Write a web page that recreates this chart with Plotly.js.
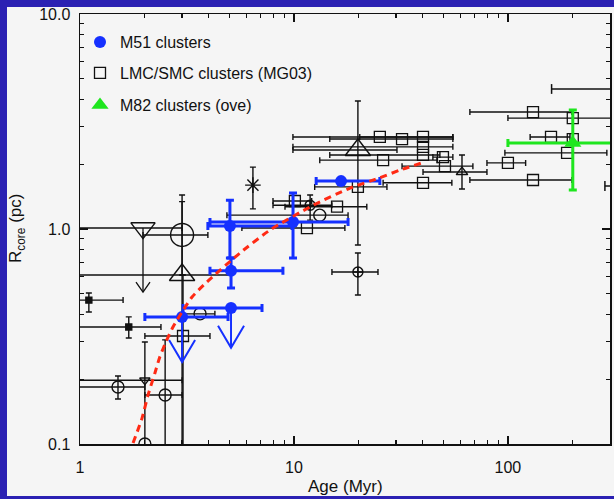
<!DOCTYPE html>
<html>
<head>
<meta charset="utf-8">
<script src="https://cdn.plot.ly/plotly-3.0.1.min.js"></script>
<style>
  html, body { margin: 0; padding: 0; width: 614px; height: 499px; overflow: hidden; background: #2b21b3; }
  #chart { position: absolute; left: 0; top: 0; width: 614px; height: 499px; }
</style>
</head>
<body>
<div id="chart"></div>
<script>
// ---------------- data ----------------
// M51 clusters (blue filled circles)
const m51Age   = [3.0, 5.08, 5.08, 5.02, 9.9, 16.6];
const m51R     = [0.39, 0.429, 0.64, 1.032, 1.078, 1.67];
const m51AgeLo = [2.01, 3.03, 4.05, 3.96, 4.05, 12.7];
const m51AgeHi = [4.92, 7.09, 8.88, 9.79, 17.9, 25.2];
const m51RLo   = [null, null, 0.532, 0.733, 0.733, null];
const m51RHi   = [null, null, 0.733, 1.36, 1.47, null];
// M51 upper limits (arrows)
const m51LimAge  = [3.0, 5.08];
const m51LimFrom = [0.39, 0.429];
const m51LimTo   = [0.2406, 0.280];

// LMC/SMC clusters (MG03, open squares)
const lmcAge   = [3.03, 10.1, 15.9, 11.5, 19.9, 25.2, 32.0, 40.1, 40.1, 40.1, 26.1, 49.7, 50.8, 40.1, 100, 131, 189, 159, 131, 201, 201];
const lmcR     = [0.318, 1.35, 1.27, 1.01, 1.57, 2.68, 2.62, 2.68, 2.41, 2.21, 2.09, 2.16, 1.96, 1.64, 2.03, 1.69, 2.26, 2.68, 3.50, 3.28, 2.62];
const lmcAgeLo = [2.01, 7.98, 9.08, 5.71, 12.5, 9.89, 14.7, 20.3, 9.89, 14.7, 13.2, 44.6, 32.0, 26.1, 79.8, 66.4, 96.8, 127, 66.4, 100, null];
const lmcAgeHi = [4.05, 12.1, 21.9, 17.3, 27.2, 55.3, 55.3, 55.3, 55.3, 48.1, 46.6, 55.3, 68.6, 54.7, 121, 199, 290, 195, 199, 400, null];
const lmcRLo   = [0.01, null, null, null, null, null, null, null, null, null, null, null, null, null, null, null, null, null, null, null, null];
const lmcRHi   = [0.611, null, null, null, null, null, null, null, null, null, null, null, null, null, null, null, null, null, null, null, null];
// LMC/SMC clusters older than the plotted range (only their age bars show)
const lmcEdgeR     = [4.48, 1.585];
const lmcEdgeAgeLo = [160, 284];
const lmcEdgeAgeHi = [400, 500];

// M82 clusters (green triangle)
const m82Age   = [201];
const m82R     = [2.51];
const m82AgeLo = [100];
const m82AgeHi = [400];
const m82RLo   = [1.52];
const m82RHi   = [3.58];

// other clusters (black symbols)
const smallCircAge   = [1.505, 2.50, 2.01, 3.64, 13.2];
const smallCircR     = [0.184, 0.169, 0.1, 0.403, 1.16];
const smallCircAgeLo = [0.8, 2.01, null, 3.03, 4.86];
const smallCircAgeHi = [2.01, 3.0, null, 4.27, 17.9];
const smallCircRLo   = [0.162, 0.01, null, null, null];
const smallCircRHi   = [0.207, 0.305, null, null, null];

const bigCircAge   = [3.0];
const bigCircR     = [0.938];
const bigCircAgeLo = [1.97];
const bigCircAgeHi = [3.96];
const bigCircRLo   = [0.611];
const bigCircRHi   = [1.44];

const crossCircAge   = [11.9, 19.9];
const crossCircR     = [1.29, 0.631];
const crossCircAgeLo = [7.98, 15.05];
const crossCircAgeHi = [15.05, 24.7];
const crossCircRLo   = [1.10, 0.493];
const crossCircRHi   = [1.44, 0.773];

const bigTriUpAge   = [3.0, 19.9];
const bigTriUpR     = [0.611, 2.33];
const bigTriUpAgeLo = [0.8, 9.89];
const bigTriUpAgeHi = [5.08, 30.3];
const bigTriUpRLo   = [0.01, 0.843];
const bigTriUpRHi   = [1.34, 3.94];

const smallTriUpAge   = [61.0];
const smallTriUpR     = [1.84];
const smallTriUpAgeLo = [40.1];
const smallTriUpAgeHi = [79.8];
const smallTriUpRLo   = [1.535];
const smallTriUpRHi   = [2.21];

const bigTriDownAge   = [1.97];
const bigTriDownR     = [1.01];
const bigTriDownAgeLo = [0.8];
const bigTriDownAgeHi = [3.0];
const bigTriDownLimTo = [0.509];

const smallTriDownAge   = [2.01];
const smallTriDownR     = [0.198];
const smallTriDownAgeLo = [0.8];
const smallTriDownAgeHi = [3.0];
const smallTriDownRLo   = [0.01];
const smallTriDownRHi   = [0.298];

const filledSqAge   = [1.10, 1.69];
const filledSqR     = [0.467, 0.350];
const filledSqAgeLo = [0.8, 0.8];
const filledSqAgeHi = [1.59, 2.39];
const filledSqRLo   = [0.411, 0.311];
const filledSqRHi   = [0.504, 0.39];

const starAge = [6.43];
const starR   = [1.60];
const starRLo = [1.24];
const starRHi = [1.94];

// model curve (red dashed)
const modelAge = [1.77, 1.95, 2.08, 2.24, 2.36, 2.52, 2.72, 3.0, 3.34, 3.92, 5.59, 7.73, 12.3, 18.3, 25.2, 31.3, 39.6];
const modelR   = [0.101, 0.132, 0.169, 0.214, 0.254, 0.298, 0.350, 0.411, 0.483, 0.567, 0.773, 0.989, 1.29, 1.55, 1.73, 1.88, 2.03];

// axis ticks
const xTickVals = [1, 10, 100];
const xTickText = ['1', '10', '100'];
const xMinorVals = [2,3,4,5,6,7,8,9,20,30,40,50,60,70,80,90,200];
const yTickVals = [0.1, 1, 10];
const yTickText = ['0.1', '1.0', '10.0'];
const yMinorVals = [0.2,0.3,0.4,0.5,0.6,0.7,0.8,0.9,2,3,4,5,6,7,8,9];

// ---------------- helpers ----------------
const BLACK = '#111111';
const BLUE = '#1530ff';
const GREEN = '#1ee61e';
const RED = '#ff2a14';
const FONT = 'Liberation Sans, Arial, sans-serif';

const X_RANGE = [0, Math.log10(300)];
const Y_RANGE = [-1, 1];
const M = { l: 80, r: 4, t: 14, b: 55 };
const PLOT_W = 614 - M.l - M.r, PLOT_H = 499 - M.t - M.b;
const X_DEC = PLOT_W / (X_RANGE[1] - X_RANGE[0]);
const Y_DEC = PLOT_H / (Y_RANGE[1] - Y_RANGE[0]);

// page pixel -> paper coordinate
const px2paperX = (px) => (px - M.l) / PLOT_W;
const px2paperY = (py) => 1 - (py - M.t) / PLOT_H;

function errPlus(v, hi) { return v.map((x, i) => (hi[i] == null ? NaN : hi[i] - x)); }
function errMinus(v, lo) { return v.map((x, i) => (lo[i] == null ? NaN : x - lo[i])); }

function errBar(v, lo, hi, color, thick, w) {
  return { type: 'data', symmetric: false, array: errPlus(v, hi), arrayminus: errMinus(v, lo),
           color: color, thickness: thick, width: w };
}

function blackTrace(xs, ys, xlo, xhi, ylo, yhi, symbol, size) {
  const t = {
    x: xs, y: ys, type: 'scatter', mode: 'markers', showlegend: false, hoverinfo: 'skip',
    marker: { symbol: symbol, size: size, color: BLACK, line: { color: BLACK, width: 1.4 } },
    cliponaxis: true
  };
  if (xlo) t.error_x = errBar(xs, xlo, xhi, BLACK, 1.4, 3);
  if (ylo) t.error_y = errBar(ys, ylo, yhi, BLACK, 1.4, 3);
  return t;
}

// upper-limit arrows: vertical shaft + open V head (head size in px)
function arrowTrace(xs, from, to, halfW, headH, color, width) {
  const X = [], Y = [];
  const fx = Math.pow(10, halfW / X_DEC), fy = Math.pow(10, headH / Y_DEC);
  for (let i = 0; i < xs.length; i++) {
    X.push(xs[i], xs[i], null); Y.push(from[i], to[i], null);
    X.push(xs[i] / fx, xs[i], xs[i] * fx, null); Y.push(to[i] * fy, to[i], to[i] * fy, null);
  }
  return { x: X, y: Y, type: 'scatter', mode: 'lines', line: { color: color, width: width },
           showlegend: false, hoverinfo: 'skip' };
}

// age bars of clusters whose symbol lies beyond the right edge
function edgeBarLines(lo, hi, r) {
  const X = [], Y = [];
  for (let i = 0; i < r.length; i++) { X.push(lo[i], hi[i], null); Y.push(r[i], r[i], null); }
  return { x: X, y: Y, type: 'scatter', mode: 'lines', line: { color: BLACK, width: 1.5 },
           showlegend: false, hoverinfo: 'skip' };
}
function edgeBarCaps(lo, r) {
  return { x: lo, y: r, type: 'scatter', mode: 'markers', showlegend: false, hoverinfo: 'skip',
           marker: { symbol: 'line-ns-open', size: 7, color: BLACK, line: { color: BLACK, width: 1.5 } } };
}

// ---------------- traces ----------------
const traces = [
  blackTrace(filledSqAge, filledSqR, filledSqAgeLo, filledSqAgeHi, filledSqRLo, filledSqRHi, 'square', 6),
  blackTrace(smallCircAge, smallCircR, smallCircAgeLo, smallCircAgeHi, smallCircRLo, smallCircRHi, 'circle-open', 12),
  blackTrace(bigCircAge, bigCircR, bigCircAgeLo, bigCircAgeHi, bigCircRLo, bigCircRHi, 'circle-open', 23),
  blackTrace(crossCircAge, crossCircR, crossCircAgeLo, crossCircAgeHi, crossCircRLo, crossCircRHi, 'circle-cross-open', 10),
  blackTrace(bigTriUpAge, bigTriUpR, bigTriUpAgeLo, bigTriUpAgeHi, bigTriUpRLo, bigTriUpRHi, 'triangle-up-open', 22),
  blackTrace(smallTriUpAge, smallTriUpR, smallTriUpAgeLo, smallTriUpAgeHi, smallTriUpRLo, smallTriUpRHi, 'triangle-up-open', 10),
  blackTrace(bigTriDownAge, bigTriDownR, bigTriDownAgeLo, bigTriDownAgeHi, null, null, 'triangle-down-open', 21),
  blackTrace(smallTriDownAge, smallTriDownR, smallTriDownAgeLo, smallTriDownAgeHi, smallTriDownRLo, smallTriDownRHi, 'triangle-down-open', 9),
  blackTrace(starAge, starR, null, null, starRLo, starRHi, 'asterisk-open', 13),
  arrowTrace(bigTriDownAge, bigTriDownR, bigTriDownLimTo, 7, 10, BLACK, 1.3),
  // LMC/SMC squares
  {
    x: lmcAge, y: lmcR, type: 'scatter', mode: 'markers', name: 'LMC/SMC clusters (MG03)',
    legend: 'legend2', hoverinfo: 'skip',
    marker: { symbol: 'square-open', size: 11, color: BLACK, line: { color: BLACK, width: 1.3 } },
    error_x: errBar(lmcAge, lmcAgeLo, lmcAgeHi, BLACK, 1.4, 3),
    error_y: errBar(lmcR, lmcRLo, lmcRHi, BLACK, 1.4, 3)
  },
  edgeBarLines(lmcEdgeAgeLo, lmcEdgeAgeHi, lmcEdgeR),
  edgeBarCaps(lmcEdgeAgeLo, lmcEdgeR),
  // M51
  arrowTrace(m51LimAge, m51LimFrom, m51LimTo, 13, 22, BLUE, 2),
  {
    x: m51Age, y: m51R, type: 'scatter', mode: 'markers', name: 'M51 clusters',
    legend: 'legend', hoverinfo: 'skip',
    marker: { symbol: 'circle', size: 12, color: BLUE },
    error_x: errBar(m51Age, m51AgeLo, m51AgeHi, BLUE, 3, 4),
    error_y: errBar(m51R, m51RLo, m51RHi, BLUE, 3, 4)
  },
  // M82
  {
    x: m82Age, y: m82R, type: 'scatter', mode: 'markers', name: 'M82 clusters (ove)',
    legend: 'legend3', hoverinfo: 'skip',
    marker: { symbol: 'triangle-up', size: 15, color: GREEN },
    error_x: errBar(m82Age, m82AgeLo, m82AgeHi, GREEN, 3, 4),
    error_y: errBar(m82R, m82RLo, m82RHi, GREEN, 3, 4)
  },
  // model
  {
    x: modelAge, y: modelR, type: 'scatter', mode: 'lines', showlegend: false, hoverinfo: 'skip',
    line: { color: RED, width: 3, dash: '7px,5px', shape: 'spline', smoothing: 0.6 }
  }
];

const axisCommon = {
  type: 'log', showline: true, linecolor: BLACK, linewidth: 1.5, mirror: 'allticks',
  ticks: 'inside', ticklen: 8, tickwidth: 1.3, tickcolor: BLACK, tickmode: 'array',
  showgrid: false, zeroline: false, fixedrange: true, ticklabeloverflow: 'allow',
  tickfont: { family: FONT, size: 16, color: BLACK }
};

function legendAt(pageY) {
  return {
    x: px2paperX(80), xanchor: 'left', y: px2paperY(pageY), yanchor: 'middle',
    bgcolor: 'rgba(0,0,0,0)', borderwidth: 0,
    font: { family: FONT, size: 16, color: BLACK }
  };
}

const layout = {
  width: 614, height: 499,
  margin: { l: M.l, r: M.r, t: M.t, b: M.b, pad: 0 },
  paper_bgcolor: '#2b21b3', plot_bgcolor: 'rgba(0,0,0,0)',
  hovermode: false,
  shapes: [
    { type: 'rect', xref: 'paper', yref: 'paper', layer: 'below',
      x0: px2paperX(7), x1: px2paperX(614), y0: px2paperY(496), y1: px2paperY(7),
      fillcolor: '#f5f5f5', line: { width: 0 } }
  ],
  xaxis: Object.assign({}, axisCommon, {
    range: X_RANGE, tickvals: xTickVals, ticktext: xTickText, ticklabelstandoff: 8,
    minor: { tickmode: 'array', tickvals: xMinorVals, ticks: 'inside', ticklen: 4, tickwidth: 1.2, tickcolor: BLACK, showgrid: false }
  }),
  yaxis: Object.assign({}, axisCommon, {
    range: Y_RANGE, tickvals: yTickVals, ticktext: yTickText, ticklabelstandoff: 5,
    minor: { tickmode: 'array', tickvals: yMinorVals, ticks: 'inside', ticklen: 4, tickwidth: 1.2, tickcolor: BLACK, showgrid: false }
  }),
  legend: legendAt(42),
  legend2: legendAt(73),
  legend3: legendAt(105),
  annotations: [
    { text: 'Age (Myr)', xref: 'paper', yref: 'paper', x: 0.5, y: px2paperY(486),
      xanchor: 'center', yanchor: 'middle', showarrow: false,
      font: { family: FONT, size: 17, color: BLACK } },
    { text: 'R<sub>core</sub> (pc)', xref: 'paper', yref: 'paper', x: px2paperX(17), y: 0.5,
      xanchor: 'center', yanchor: 'middle', textangle: -90, showarrow: false,
      font: { family: FONT, size: 17, color: BLACK } }
  ]
};

Plotly.newPlot('chart', traces, layout, { staticPlot: true, displayModeBar: false });
</script>
</body>
</html>
